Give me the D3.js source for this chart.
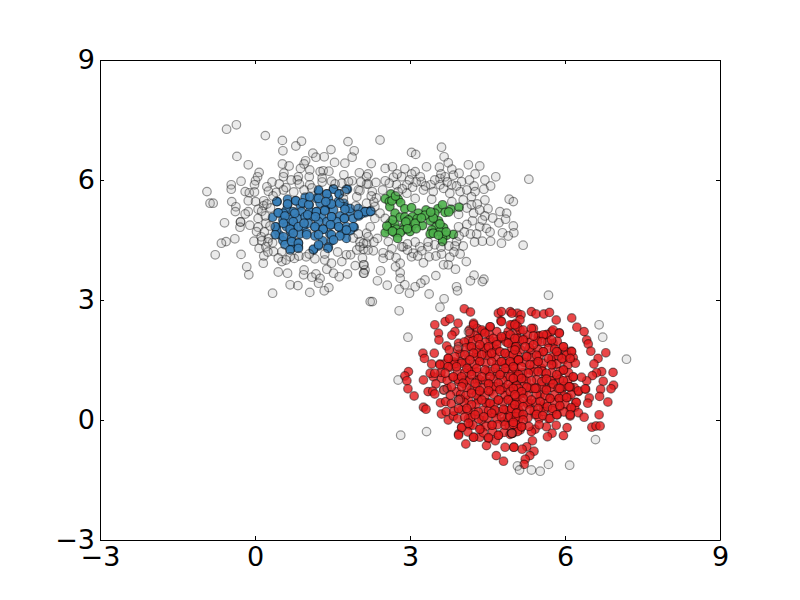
<!DOCTYPE html>
<html>
<head>
<meta charset="utf-8">
<script src="https://cdnjs.cloudflare.com/ajax/libs/d3/7.8.5/d3.min.js"></script>
<style>
  html, body { margin: 0; padding: 0; background: #fff; }
  .tick text { font-family: "DejaVu Sans", sans-serif; font-size: 27px; fill: #000; }
</style>
</head>
<body>
<svg id="chart" width="800" height="600"></svg>
<script>
var xTicks = [-3, 0, 3, 6, 9];
var yTicks = [-3, 0, 3, 6, 9];

//points, [x, y]
var bluePoints = [[1.23,5.72],[1.52,5.78],[1.79,5.77],[1.39,5.65],[1.63,5.65],[0.43,5.46],[0.63,5.52],[0.79,5.48],[0.97,5.57],[1.19,5.54],[1.42,5.54],[1.72,5.42],[0.63,5.38],[0.88,5.36],[1.05,5.38],[1.26,5.42],[1.45,5.38],[1.61,5.46],[0.45,5.18],[0.61,5.25],[0.74,5.21],[0.90,5.21],[1.06,5.21],[1.19,5.21],[1.35,5.25],[1.52,5.25],[1.74,5.32],[1.84,5.21],[0.34,5.07],[0.54,5.00],[0.68,5.02],[0.82,5.04],[0.97,5.08],[1.13,5.08],[1.29,5.07],[1.48,5.08],[1.65,5.10],[1.73,5.04],[1.90,5.04],[2.01,5.10],[2.13,5.21],[2.21,5.21],[0.41,4.83],[0.61,4.83],[0.75,4.82],[0.94,4.85],[1.16,4.83],[1.32,4.77],[1.48,4.88],[1.63,4.82],[1.77,4.83],[1.92,4.82],[0.47,4.63],[0.69,4.71],[0.87,4.65],[1.00,4.68],[1.16,4.60],[1.45,4.65],[1.68,4.65],[1.84,4.73],[0.54,4.48],[0.71,4.54],[0.84,4.43],[1.31,4.48],[1.48,4.48],[1.77,4.54],[0.71,4.29],[0.84,4.33],[1.13,4.25],[1.23,4.35],[1.42,4.32],[0.42,4.75],[1.03,4.92],[1.39,4.96],[0.74,4.96],[0.55,5.17],[1.23,4.96],[1.58,4.96],[2.24,5.23],[2.13,5.18],[2.05,5.15]];

var blueCore = [[0.42,5.46],[0.63,5.40],[0.79,5.48],[0.92,5.43],[1.04,5.38],[1.19,5.21],[1.35,5.23],[1.48,5.40],[0.45,5.18],[0.58,5.10],[0.77,5.17],[1.02,5.13],[1.17,5.08],[1.48,5.08],[1.73,5.04],[0.39,4.83],[0.55,4.92],[0.68,4.77],[0.84,4.83],[0.95,4.92],[1.16,4.83],[1.32,4.77],[1.46,4.88],[1.62,4.83],[1.90,4.83],[0.39,4.63],[0.55,4.58],[0.74,4.67],[1.00,4.63],[1.23,4.63],[1.48,4.63],[1.64,4.60],[1.77,4.75],[0.58,4.38],[0.71,4.46],[0.84,4.42],[1.13,4.27],[1.23,4.38],[1.41,4.29],[1.52,4.50],[0.68,4.25],[0.84,4.29],[1.23,5.75],[1.52,5.77],[1.77,5.77],[1.39,5.65],[1.63,5.65],[1.06,5.58],[1.23,5.54],[1.37,5.46],[1.64,5.42],[1.84,5.29],[1.74,5.27],[2.00,5.29],[2.13,5.21],[2.24,5.21],[2.00,5.13]];

var greenPoints = [[2.63,5.65],[2.52,5.53],[2.77,5.52],[2.60,5.46],[2.82,5.43],[2.61,5.33],[2.90,5.28],[3.03,5.31],[3.31,5.25],[3.54,5.28],[3.63,5.38],[3.79,5.27],[3.95,5.32],[2.71,5.17],[3.16,5.17],[3.48,5.17],[3.68,5.19],[2.81,5.07],[2.90,5.07],[3.05,5.08],[3.14,5.03],[3.39,4.98],[3.55,4.98],[2.61,4.92],[2.71,4.88],[2.90,4.88],[3.03,4.83],[3.24,4.86],[3.50,4.82],[3.65,4.81],[2.58,4.77],[2.74,4.77],[2.87,4.75],[3.42,4.75],[2.52,4.68],[2.70,4.68],[2.81,4.68],[3.00,4.71],[3.39,4.65],[3.58,4.71],[3.71,4.62],[3.84,4.64],[2.76,4.54],[3.45,4.67],[3.63,4.54],[3.63,4.46],[3.29,5.12],[2.97,5.00],[2.66,5.00],[2.55,4.85],[2.66,4.72],[2.92,4.95],[3.10,4.92],[3.22,5.05],[3.45,5.05],[3.58,4.90],[3.70,4.70],[2.95,4.78],[3.12,4.78],[2.65,5.48],[2.72,5.60],[3.55,4.62],[3.75,5.20],[3.40,5.20]];

var redPoints = [[4.05,2.78],[4.17,2.70],[4.71,2.67],[4.77,2.71],[4.94,2.71],[5.08,2.67],[3.48,2.38],[3.68,2.46],[3.77,2.53],[3.93,2.42],[4.76,2.48],[5.05,2.42],[3.55,2.17],[3.56,2.00],[3.87,2.21],[3.81,2.12],[4.23,2.42],[4.30,2.29],[4.55,2.33],[4.15,2.25],[4.42,2.21],[4.68,2.21],[4.90,2.21],[5.06,2.17],[3.71,1.85],[3.94,1.92],[4.13,2.00],[4.32,2.04],[4.55,2.00],[4.77,2.04],[4.97,1.96],[3.25,1.67],[3.28,1.54],[3.47,1.67],[3.42,1.40],[3.58,1.40],[3.74,1.54],[3.97,1.67],[4.16,1.83],[4.39,1.83],[4.61,1.83],[4.84,1.67],[5.06,1.79],[3.45,1.08],[3.39,1.17],[2.97,1.21],[2.90,1.10],[2.94,0.98],[3.26,1.00],[3.61,1.04],[3.77,1.32],[3.97,1.46],[4.13,1.27],[4.35,1.46],[4.58,1.63],[4.77,1.46],[4.97,1.46],[5.10,1.50],[3.50,0.90],[3.83,1.07],[4.08,1.00],[4.29,1.00],[4.52,0.92],[4.68,1.15],[4.87,1.08],[5.06,1.17],[2.96,0.78],[3.08,0.60],[3.35,0.71],[3.44,0.72],[3.48,0.65],[3.65,0.75],[3.72,0.79],[3.90,0.71],[4.19,0.75],[4.35,0.71],[4.55,0.71],[4.77,0.75],[4.97,0.83],[3.26,0.32],[3.31,0.27],[3.59,0.43],[3.69,0.46],[3.94,0.50],[4.13,0.50],[4.32,0.50],[4.52,0.42],[4.71,0.50],[4.90,0.54],[5.06,0.42],[3.61,0.15],[3.70,0.21],[3.74,0.00],[3.84,0.10],[4.00,0.25],[4.23,0.21],[4.42,0.25],[4.61,0.17],[4.84,0.25],[5.03,0.21],[4.00,-0.18],[4.16,-0.13],[4.37,-0.22],[4.58,-0.13],[4.81,-0.04],[5.00,0.00],[3.94,-0.35],[4.23,-0.43],[4.35,-0.43],[4.52,-0.46],[4.71,-0.38],[4.97,-0.33],[4.08,-0.60],[4.48,-0.64],[4.65,-0.52],[4.84,-0.68],[5.01,-0.68],[4.67,-0.89],[4.81,-1.03],[4.13,0.04],[4.39,0.00],[5.13,-0.25],[3.94,0.96],[4.19,1.21],[4.48,1.21],[4.68,0.83],[4.87,1.29],[3.76,1.75],[4.29,1.67],[4.48,1.67],
[5.35,2.71],[5.44,2.65],[5.59,2.65],[5.70,2.69],[5.83,2.50],[6.13,2.55],[6.23,2.32],[6.37,2.21],[5.15,2.63],[5.13,2.50],[4.97,2.67],[5.39,2.29],[5.74,2.21],[5.89,2.18],[6.42,2.00],[6.45,1.90],[6.50,1.72],[6.79,1.68],[6.64,1.54],[6.56,1.40],[5.13,2.25],[5.50,2.11],[5.21,2.02],[5.64,2.12],[4.97,2.37],[5.77,1.92],[5.97,1.83],[6.12,1.72],[6.16,1.56],[6.71,1.21],[6.61,1.18],[6.53,1.11],[6.93,1.19],[6.74,0.97],[6.42,0.98],[6.32,1.07],[6.94,0.87],[6.89,0.78],[6.69,0.77],[6.67,0.59],[6.83,0.45],[6.47,0.55],[6.44,0.42],[6.26,0.71],[6.40,0.77],[6.16,1.07],[6.08,0.83],[5.94,0.77],[5.97,1.25],[5.77,1.38],[5.48,1.46],[5.26,1.60],[5.58,1.71],[5.86,1.71],[5.06,1.46],[5.32,1.25],[5.61,1.04],[5.81,1.00],[5.06,1.08],[5.18,1.04],[5.37,0.79],[5.64,0.79],[5.00,0.75],[5.19,0.67],[5.52,0.63],[5.71,0.54],[5.89,0.54],[6.06,0.57],[6.21,0.44],[6.10,0.27],[6.19,0.32],[5.90,0.33],[6.26,0.18],[6.37,0.07],[6.66,0.13],[6.10,0.10],[5.85,0.13],[5.58,0.33],[5.32,0.42],[5.06,0.42],[5.16,0.13],[5.42,0.13],[5.68,0.04],[5.00,0.08],[6.52,-0.18],[6.60,-0.15],[6.68,-0.15],[6.04,-0.19],[5.83,-0.13],[5.64,-0.17],[5.42,-0.23],[5.35,-0.29],[5.97,-0.39],[5.75,-0.33],[5.66,-0.42],[5.37,-0.52],[5.26,-0.67],[5.17,-0.73],[5.01,-0.68],[5.40,-0.78],[5.32,-0.89],[5.23,-0.98],[5.21,-1.11],[4.99,-0.33],[5.16,-0.17],[5.55,1.29],[5.35,1.75],[5.03,1.83],[5.74,1.50],[5.97,1.50]];

//the packed middle of the red cloud
var redCore = [[4.23,2.38],[4.39,2.25],[4.55,2.33],[4.77,2.46],[4.94,2.38],[5.08,2.33],[4.16,2.17],[4.32,2.04],[4.45,2.17],[4.61,2.04],[4.77,2.08],[4.94,2.13],[5.08,2.04],[4.19,1.83],[4.35,1.88],[4.52,1.83],[4.68,1.88],[4.90,1.92],[5.05,1.83],[4.06,1.63],[4.23,1.67],[4.39,1.63],[4.58,1.67],[4.74,1.71],[4.84,1.67],[5.00,1.63],[3.87,1.58],[3.74,1.54],[4.00,1.42],[4.16,1.50],[4.35,1.46],[4.58,1.46],[4.77,1.46],[4.94,1.46],[5.10,1.50],[3.58,1.38],[3.74,1.33],[3.90,1.33],[4.10,1.29],[4.29,1.29],[4.45,1.25],[4.65,1.29],[4.84,1.29],[5.03,1.29],[3.48,1.17],[3.68,1.17],[3.84,1.08],[4.00,1.08],[4.19,1.13],[4.39,1.08],[4.55,1.08],[4.74,1.13],[4.94,1.08],[5.10,1.08],[4.03,0.92],[4.26,0.92],[4.52,0.90],[4.71,0.92],[4.90,0.88],[5.06,0.88],
[5.03,2.38],[5.19,2.25],[5.35,2.29],[5.39,2.10],[5.58,2.13],[5.77,2.25],[5.89,2.17],[5.03,2.04],[5.19,2.00],[5.55,1.96],[5.74,2.00],[5.97,1.83],[5.03,1.75],[5.23,1.83],[5.39,1.88],[5.58,1.71],[5.84,1.71],[6.13,1.71],[5.10,1.50],[5.26,1.58],[5.45,1.62],[5.68,1.54],[5.94,1.54],[6.10,1.54],[5.00,1.33],[5.16,1.33],[5.32,1.38],[5.48,1.46],[5.74,1.38],[5.97,1.25],[5.10,1.13],[5.29,1.17],[5.48,1.21],[5.64,1.17],[5.84,1.13],[6.16,1.08],[5.00,1.04],[5.16,1.04],[5.35,0.98],[5.55,0.96],[5.64,1.02],[5.97,0.98],[5.77,0.90],[6.10,0.83],[5.06,0.85],[5.26,0.82],[5.45,0.79],[5.87,0.79],
[4.00,0.83],[4.19,0.67],[4.35,0.73],[4.52,0.73],[4.74,0.75],[4.94,0.71],[5.10,0.79],[3.97,0.52],[4.19,0.38],[4.39,0.50],[4.55,0.42],[4.71,0.50],[4.90,0.50],[5.06,0.58],[3.94,0.28],[4.10,0.29],[4.64,0.25],[4.81,0.27],[4.97,0.29],[5.10,0.25],[4.06,0.07],[4.26,0.13],[4.43,0.08],[4.58,0.17],[4.77,0.08],[4.94,0.08],[5.06,0.08],[4.00,-0.19],[4.13,-0.08],[4.35,-0.23],[4.59,-0.13],[4.84,-0.13],[5.00,-0.11],[4.71,-0.38],[4.52,-0.44],[3.94,-0.38],[4.94,-0.36],[4.23,-0.43],
[5.00,0.79],[5.16,0.71],[5.42,0.79],[5.64,0.75],[5.90,0.79],[6.08,0.83],[6.26,0.73],[6.39,0.78],[5.03,0.63],[5.19,0.54],[5.35,0.50],[5.52,0.46],[5.71,0.54],[5.89,0.54],[6.03,0.56],[6.22,0.44],[5.03,0.38],[5.19,0.33],[5.32,0.25],[5.48,0.29],[5.66,0.33],[5.76,0.29],[5.90,0.36],[6.12,0.31],[5.06,0.17],[5.19,0.14],[5.45,0.14],[5.57,0.11],[5.00,-0.06],[5.19,0.00],[5.71,0.04],[5.84,0.13],[6.10,0.13],[5.16,-0.17],[4.97,-0.33]];

var redFill = [[4.25,2.12],[4.53,2.14],[4.85,2.10],[5.28,2.13],[5.48,2.09],[5.65,2.14],
[4.05,1.95],[4.22,1.98],[4.45,1.94],[4.68,1.97],[4.86,1.95],[5.12,1.98],[5.32,1.94],[5.47,1.97],[5.66,1.94],[5.85,1.97],
[3.92,1.77],[4.08,1.80],[4.28,1.76],[4.47,1.79],[4.68,1.76],[4.97,1.80],[5.14,1.76],[5.31,1.80],[5.48,1.76],[5.68,1.79],[5.80,1.77],[6.02,1.70],
[3.85,1.45],[4.14,1.58],[4.31,1.56],[4.50,1.60],[4.66,1.56],[4.92,1.60],[5.08,1.62],[5.36,1.55],[5.50,1.60],[5.75,1.57],[5.87,1.60],[6.03,1.62],
[3.67,1.40],[3.87,1.41],[4.08,1.43],[4.25,1.39],[4.47,1.42],[4.67,1.38],[4.85,1.41],[5.21,1.44],[5.40,1.39],[5.58,1.42],[5.84,1.40],[6.06,1.38],[6.20,1.42],
[3.60,1.19],[3.92,1.21],[4.06,1.18],[4.30,1.20],[4.55,1.22],[4.76,1.19],[4.98,1.21],[5.18,1.18],[5.40,1.20],[5.56,1.22],[5.74,1.19],[5.90,1.21],[6.07,1.18],
[3.72,0.99],[3.93,1.02],[4.15,0.98],[4.35,1.01],[4.46,0.98],[4.62,1.02],[4.80,0.99],[5.00,1.02],[5.25,0.98],[5.45,1.01],[5.72,0.98],[5.90,1.02],[6.05,0.99],
[3.80,0.83],[4.10,0.81],[4.30,0.84],[4.42,0.80],[4.62,0.83],[4.82,0.81],[5.20,0.84],[5.34,0.80],[5.55,0.83],[5.73,0.81],[5.98,0.84],[6.18,0.81],
[3.78,0.62],[3.98,0.64],[4.08,0.61],[4.28,0.63],[4.45,0.60],[4.62,0.64],[4.84,0.61],[5.11,0.63],[5.28,0.60],[5.45,0.64],[5.62,0.61],[5.80,0.63],[5.98,0.60],[6.12,0.64],
[3.80,0.41],[4.05,0.44],[4.28,0.40],[4.47,0.43],[4.63,0.40],[4.80,0.44],[4.98,0.41],[5.13,0.43],[5.28,0.40],[5.44,0.44],[5.60,0.41],[5.80,0.43],[6.00,0.40],
[3.85,0.22],[4.12,0.24],[4.32,0.20],[4.52,0.23],[4.72,0.21],[4.92,0.24],[5.12,0.20],[5.40,0.23],[5.58,0.21],[5.75,0.24],[5.98,0.20],
[3.92,0.03],[4.18,0.06],[4.33,0.02],[4.50,0.05],[4.68,0.03],[4.88,0.06],[5.10,0.02],[5.28,0.05],[5.50,0.03],
[4.22,-0.13],[4.47,-0.16],[4.70,-0.12],[4.92,-0.15],[5.07,-0.13],[5.30,-0.16],[5.50,-0.12],
[4.12,-0.30],[4.42,-0.32],[4.60,-0.29],[4.82,-0.31],[5.08,-0.29]];

var grayPoints = [[-0.36,7.38],[-0.55,7.27],[0.20,7.11],[0.53,6.99],[0.90,6.97],[0.79,6.85],[0.54,6.73],[1.80,6.96],[1.92,6.73],[1.88,6.57],[1.47,6.76],[1.12,6.67],[1.18,6.57],[1.34,6.58],[-0.35,6.59],[-0.13,6.38],[0.53,6.40],[0.66,6.35],[0.98,6.48],[0.95,6.40],[1.54,6.44],[1.74,6.42],[0.08,6.19],[0.05,6.08],[0.01,5.98],[-0.01,5.88],[0.56,6.17],[0.55,6.08],[0.88,6.29],[0.84,6.08],[0.82,6.00],[1.06,6.25],[1.26,6.21],[1.32,6.23],[1.43,6.22],[2.02,6.18],[1.72,6.13],[-0.27,5.97],[-0.46,5.88],[-0.46,5.77],[0.33,5.95],[0.47,5.90],[0.60,5.81],[0.23,5.83],[0.26,5.72],[0.41,5.69],[0.86,5.90],[1.05,6.08],[1.06,5.88],[1.48,5.97],[1.88,5.98],[1.81,5.96],[1.68,5.92],[2.16,5.90],[2.19,6.15],[-0.19,5.71],[-0.11,5.68],[-0.01,5.70],[-0.93,5.71],[-0.87,5.42],[-0.81,5.42],[-0.45,5.46],[-0.13,5.48],[0.01,5.46],[0.17,5.48],[0.17,5.36],[-0.37,5.33],[-0.38,5.21],[-0.13,5.21],[-0.19,5.15],[0.06,5.27],[0.13,5.22],[0.23,5.40],[-0.59,4.93],[-0.28,4.95],[-0.28,4.95],[-0.29,4.82],[-0.10,4.87],[0.06,5.04],[0.06,4.82],[0.21,4.92],[0.29,4.85],[0.03,4.71],[-0.39,4.53],[-0.56,4.46],[-0.65,4.42],[-0.02,4.47],[0.12,4.58],[0.13,4.48],[0.26,4.54],[0.34,4.43],[0.08,4.29],[0.21,4.33],[-0.77,4.13],[-0.27,4.14],[0.17,4.10],[0.16,3.92],[0.36,4.21],[0.52,4.21],[0.52,3.96],[0.68,4.08],[0.76,4.04],[0.99,4.08],[1.16,4.03],[1.35,4.00],[1.68,3.96],[1.77,4.13],[1.85,4.13],[1.97,4.25],[2.10,4.27],[2.19,4.25],[-0.16,3.83],[-0.12,3.63],[0.45,3.70],[0.63,3.67],[0.95,3.75],[0.94,3.63],[1.18,3.65],[1.10,3.57],[1.26,3.54],[1.23,3.42],[1.43,3.31],[1.34,3.23],[1.06,3.19],[0.68,3.38],[0.83,3.36],[0.34,3.17],[1.39,3.77],[1.48,3.92],[1.52,3.67],[1.63,3.58],[1.79,3.65],[1.94,3.86],[2.10,3.88],[2.13,3.75],[2.10,3.67],[2.23,2.96],[2.00,5.75],[2.03,5.73],[1.97,5.58],[1.71,5.54],[1.74,5.71],[2.16,4.67],[2.03,4.46],[2.16,4.42],
[2.42,7.00],[3.61,6.82],[3.03,6.69],[3.11,6.64],[3.66,6.58],[2.25,6.41],[3.74,6.43],[4.13,6.38],[4.35,6.35],[2.52,6.29],[2.66,6.33],[2.90,6.28],[3.32,6.33],[3.57,6.32],[3.81,6.27],[4.26,6.15],[3.10,6.21],[3.03,6.15],[2.16,6.08],[4.66,6.08],[5.30,6.02],[2.68,6.07],[2.84,6.08],[2.99,6.00],[3.58,6.04],[3.68,6.08],[3.84,6.12],[3.95,6.17],[4.45,6.00],[2.34,5.94],[2.19,5.90],[2.52,5.98],[2.74,5.88],[2.94,5.88],[3.22,5.96],[3.40,5.88],[3.58,5.88],[3.65,5.79],[3.81,5.88],[4.00,5.96],[4.24,5.85],[4.56,5.85],[4.43,5.77],[2.27,5.71],[2.47,5.75],[2.77,5.71],[2.94,5.67],[3.26,5.75],[3.45,5.71],[3.77,5.67],[3.97,5.71],[4.26,5.71],[4.19,5.58],[4.92,5.52],[5.00,5.46],[4.45,5.50],[3.42,5.52],[3.10,5.54],[4.03,5.50],[3.81,5.46],[4.19,5.38],[4.51,5.28],[4.74,5.21],[4.87,5.17],[4.72,4.93],[4.85,5.02],[5.00,4.85],[4.23,5.17],[4.45,5.10],[3.94,5.14],[2.32,5.33],[2.16,5.42],[2.42,5.17],[2.52,5.04],[2.23,4.83],[2.32,5.04],[4.21,4.98],[4.35,4.83],[4.48,4.79],[4.10,4.89],[3.94,4.83],[4.17,4.65],[4.29,4.65],[4.79,4.68],[5.01,4.68],[4.90,4.60],[4.40,4.47],[4.56,4.47],[4.77,4.42],[5.19,4.37],[3.90,4.46],[4.03,4.35],[3.87,4.35],[2.19,4.58],[2.03,4.33],[2.37,4.54],[2.10,4.42],[2.58,4.46],[2.87,4.33],[3.19,4.33],[3.35,4.33],[3.48,4.38],[2.29,4.23],[2.48,4.18],[2.48,4.04],[2.73,4.06],[2.84,4.33],[3.06,4.17],[3.23,4.23],[3.37,4.08],[3.61,4.15],[3.77,4.07],[3.97,4.15],[3.03,4.08],[3.26,3.93],[3.65,3.88],[3.74,3.88],[2.81,3.92],[2.72,3.83],[2.81,3.68],[2.81,3.54],[4.09,3.96],[3.88,3.77],[2.43,3.73],[2.11,3.88],[2.11,3.67],[3.50,3.61],[4.24,3.62],[4.43,3.52],[4.17,3.48],[4.40,3.46],[2.37,3.48],[2.56,3.37],[2.90,3.38],[2.79,3.27],[3.29,3.50],[3.21,3.42],[3.10,3.33],[2.99,3.17],[3.90,3.33],[3.92,3.23],[3.37,3.15],[3.66,3.03],[3.58,2.82],[2.27,2.96],[2.79,2.73],
[2.96,2.07],[2.77,1.00],[2.82,-0.38],[3.32,-0.29],[5.68,3.12],[6.66,2.38],[6.73,2.07],[7.19,1.52],[6.59,-0.49],[5.68,-1.11],[6.09,-1.13],[5.08,-1.15],[5.12,-1.25],[5.35,-1.25],[5.52,-1.28],
[3.94,0.50],[4.13,2.21],[3.66,0.75],[4.97,-0.33],[3.94,1.83]];

var grayDense = [[2.35,5.55],[2.60,5.92],[2.85,5.78],[3.05,5.82],[3.12,5.95],[3.30,5.85],[3.48,6.00],[3.72,5.95],[3.90,5.85],[4.10,5.75],[4.15,6.00],[3.60,6.15],[3.20,6.08],[2.75,6.15],[4.30,5.40],[4.35,5.25],[4.10,5.30],[4.40,5.00],[4.60,5.05],[4.55,4.70],[4.05,4.70],[3.95,4.60],[4.25,4.45],[3.75,4.35],[3.60,4.32],[3.35,4.45],[3.10,4.45],[2.95,4.25],[2.65,4.28],[2.60,4.12],[2.95,4.40],[3.15,4.10],[3.50,4.10],[3.85,4.20],[2.30,4.45],[2.30,5.45],[1.95,5.35],[2.25,5.60],[1.90,4.55],[2.00,4.65],[2.08,4.05],[1.60,4.20],[1.35,4.15],[1.05,4.15],[0.85,4.10],[0.60,4.00],[0.45,4.05],[0.25,4.20],[0.25,4.45],[0.18,4.70],[0.20,5.10],[0.30,5.30],[0.35,5.60],[0.55,5.75],[0.75,5.70],[0.95,5.75],[1.10,5.80],[1.30,5.95],[1.55,5.90],[2.05,5.95],[1.30,6.05],[0.70,6.00]];

var width = 800, height = 600;
var margin = {top: 60, right: 80, bottom: 60, left: 100};

var x = d3.scaleLinear().domain([-3, 9]).range([margin.left, width - margin.right]);
var y = d3.scaleLinear().domain([-3, 9]).range([height - margin.bottom, margin.top]);

var svg = d3.select("#chart");

//clusters first, the grey outliers sit on top of them
function drawPoints(points, color, fillOpacity, strokeOpacity) {
  svg.append("g").selectAll("circle")
      .data(points)
      .enter().append("circle")
      .attr("cx", function(d) { return x(d[0]); })
      .attr("cy", function(d) { return y(d[1]); })
      .attr("r", 4.3)
      .attr("fill", color)
      .attr("fill-opacity", fillOpacity)
      .attr("stroke", "#000")
      .attr("stroke-opacity", strokeOpacity)
      .attr("stroke-width", 1.2);
}

drawPoints(redPoints.concat(redFill, redCore), "#e41a1c", 0.8, 0.45);
drawPoints(bluePoints.concat(blueCore), "#377eb8", 0.9, 0.5);
drawPoints(greenPoints, "#4daf4a", 0.9, 0.5);
drawPoints(grayPoints.concat(grayDense), "#999999", 0.2, 0.4);

function noLabel() { return ""; }

svg.append("g").attr("transform", "translate(0," + y(-3) + ")")
    .call(d3.axisBottom(x).tickValues(xTicks).tickSize(-4).tickSizeOuter(0).tickPadding(7));
svg.append("g").attr("transform", "translate(0," + y(9) + ")")
    .call(d3.axisTop(x).tickValues(xTicks).tickSize(-4).tickSizeOuter(0).tickFormat(noLabel));
svg.append("g").attr("transform", "translate(" + x(-3) + ",0)")
    .call(d3.axisLeft(y).tickValues(yTicks).tickSize(-4).tickSizeOuter(0).tickPadding(5));
svg.append("g").attr("transform", "translate(" + x(9) + ",0)")
    .call(d3.axisRight(y).tickValues(yTicks).tickSize(-4).tickSizeOuter(0).tickFormat(noLabel));
</script>
</body>
</html>
